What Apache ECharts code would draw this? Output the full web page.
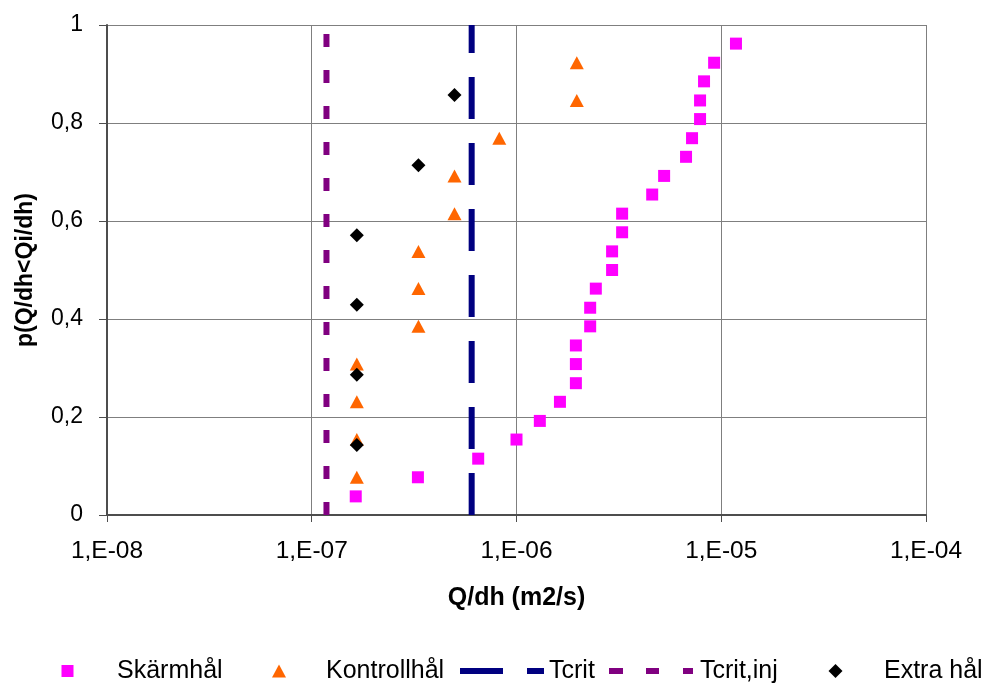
<!DOCTYPE html>
<html>
<head>
<meta charset="utf-8">
<script src="https://cdn.jsdelivr.net/npm/echarts@6/dist/echarts.min.js"></script>
<style>
html,body{margin:0;padding:0;background:#fff;}
#chart{width:988px;height:684px;}
</style>
</head>
<body>
<div id="chart"></div>
<script>
// ---- data ----
var seriesNames = ['Skärmhål', 'Kontrollhål', 'Tcrit', 'Tcrit,inj', 'Extra hål'];

var skarmX = [1.64e-7, 3.3e-7, 6.5e-7, 1.0e-6, 1.3e-6, 1.63e-6, 1.95e-6, 1.95e-6, 1.95e-6,
  2.29e-6, 2.29e-6, 2.44e-6, 2.93e-6, 2.93e-6, 3.28e-6, 3.28e-6, 4.6e-6, 5.26e-6,
  6.73e-6, 7.2e-6, 7.88e-6, 7.88e-6, 8.24e-6, 9.23e-6, 1.18e-5];
var skarmP = [0.038, 0.077, 0.115, 0.154, 0.192, 0.231, 0.269, 0.308, 0.346, 0.385,
  0.423, 0.462, 0.5, 0.538, 0.577, 0.615, 0.654, 0.692, 0.731, 0.769, 0.808,
  0.846, 0.885, 0.923, 0.962];

var kontrollX = [1.66e-7, 1.66e-7, 1.66e-7, 1.66e-7, 3.32e-7, 3.32e-7, 3.32e-7,
  4.98e-7, 4.98e-7, 8.24e-7, 1.97e-6, 1.97e-6];
var kontrollP = [0.077, 0.154, 0.231, 0.308, 0.385, 0.462, 0.538, 0.615, 0.692,
  0.769, 0.846, 0.923];

var extraX = [1.66e-7, 1.66e-7, 1.66e-7, 1.66e-7, 3.32e-7, 4.98e-7];
var extraP = [0.143, 0.286, 0.429, 0.571, 0.714, 0.857];

var tcritX = [6.04e-7, 6.04e-7];
var tcritP = [0, 1];
var tcritInjX = [1.18e-7, 1.18e-7];
var tcritInjP = [0, 1];

var xTickValues = [1e-8, 1e-7, 1e-6, 1e-5, 1e-4];
var yTickLabels = ['0', '0,2', '0,4', '0,6', '0,8', '1'];

function zip(a, b) { return a.map(function (v, i) { return [v, b[i]]; }); }

var FONT = '"Liberation Sans", Arial, sans-serif';

var chart = echarts.init(document.getElementById('chart'), null, {renderer: 'canvas'});

function legendItem(name, left, top, w, h, padLeft, padBottom, extra) {
  var o = {
    data: [name],
    left: left, top: top,
    orient: 'horizontal',
    padding: 0,
    itemWidth: w, itemHeight: h,
    selectedMode: false,
    textStyle: {fontFamily: FONT, fontSize: 25, color: '#000', padding: [0, 0, padBottom, padLeft]}
  };
  if (extra) { for (var k in extra) o[k] = extra[k]; }
  return o;
}

var option = {
  animation: false,
  backgroundColor: '#ffffff',
  grid: {left: 107, right: 62, top: 25, bottom: 169, containLabel: false},
  xAxis: {
    type: 'log', logBase: 10, min: xTickValues[0], max: xTickValues[xTickValues.length - 1],
    name: 'Q/dh (m2/s)', nameLocation: 'middle', nameGap: 71,
    nameTextStyle: {fontFamily: FONT, fontSize: 25, fontWeight: 'bold', color: '#000'},
    axisLine: {show: true, lineStyle: {color: '#4d4d4d', width: 2}},
    axisTick: {show: true, inside: false, length: 7, lineStyle: {color: '#4d4d4d', width: 1}},
    minorTick: {show: false},
    splitLine: {show: true, lineStyle: {color: '#7f7f7f', width: 1}},
    axisLabel: {
      margin: 24, fontFamily: FONT, fontSize: 24.5, color: '#000',
      formatter: function (v) {
        var e = Math.round(Math.log10(v));
        var s = Math.abs(e) < 10 ? '0' + Math.abs(e) : String(Math.abs(e));
        return '1,E' + (e < 0 ? '-' : '+') + s;
      }
    }
  },
  yAxis: {
    type: 'value', min: 0, max: 1, interval: 0.2,
    name: 'p(Q/dh<Qi/dh)', nameLocation: 'middle', nameGap: 70, nameRotate: 90,
    nameTextStyle: {fontFamily: FONT, fontSize: 23, fontWeight: 'bold', color: '#000'},
    axisLine: {show: true, lineStyle: {color: '#4d4d4d', width: 2}},
    axisTick: {show: true, inside: false, length: 8, lineStyle: {color: '#4d4d4d', width: 1}},
    splitLine: {show: true, lineStyle: {color: '#7f7f7f', width: 1}},
    axisLabel: {
      margin: 24, fontFamily: FONT, fontSize: 23, color: '#000',
      formatter: function (v) { return yTickLabels[Math.round(v * 5)]; }
    }
  },
  legend: [
    legendItem(seriesNames[0], 61.5, 658.5, 12, 12, 38.5, 6),
    legendItem(seriesNames[1], 272, 658.5, 14, 13, 35, 6),
    legendItem(seriesNames[2], 460, 658.5, 84, 6, 0, 0, {
      icon: 'path://M0,0H43V6H0Z M67,0H84V6H67Z',
      itemStyle: {color: '#000080', borderWidth: 0, opacity: 1}
    }),
    legendItem(seriesNames[3], 609, 658.5, 84, 6, 2, 0, {
      icon: 'path://M0,0H14V6H0Z M37,0H50V6H37Z M74,0H84V6H74Z',
      itemStyle: {color: '#800080', borderWidth: 0, opacity: 1}
    }),
    legendItem(seriesNames[4], 828.5, 658.5, 14, 14, 36.5, 6)
  ],
  series: [
    {
      name: seriesNames[0], type: 'scatter', symbol: 'rect', symbolSize: 12,
      itemStyle: {color: '#ff00ff', opacity: 1}, data: zip(skarmX, skarmP), z: 3
    },
    {
      name: seriesNames[1], type: 'scatter', symbol: 'triangle', symbolSize: [14, 13],
      itemStyle: {color: '#ff6600', opacity: 1}, data: zip(kontrollX, kontrollP), z: 3
    },
    {
      name: seriesNames[2], type: 'line', symbol: 'none', showSymbol: false,
      lineStyle: {color: '#000080', width: 6, type: [42, 24], cap: 'butt', opacity: 1},
      itemStyle: {color: '#000080'},
      data: zip(tcritX, tcritP), z: 2
    },
    {
      name: seriesNames[3], type: 'line', symbol: 'none', showSymbol: false,
      lineStyle: {color: '#800080', width: 6, type: [13, 23], cap: 'butt', opacity: 1},
      itemStyle: {color: '#800080'},
      data: zip(tcritInjX, tcritInjP), z: 2
    },
    {
      name: seriesNames[4], type: 'scatter', symbol: 'diamond', symbolSize: 14,
      itemStyle: {color: '#000000', opacity: 1}, data: zip(extraX, extraP), z: 4
    }
  ]
};
chart.setOption(option);
</script>
</body>
</html>
